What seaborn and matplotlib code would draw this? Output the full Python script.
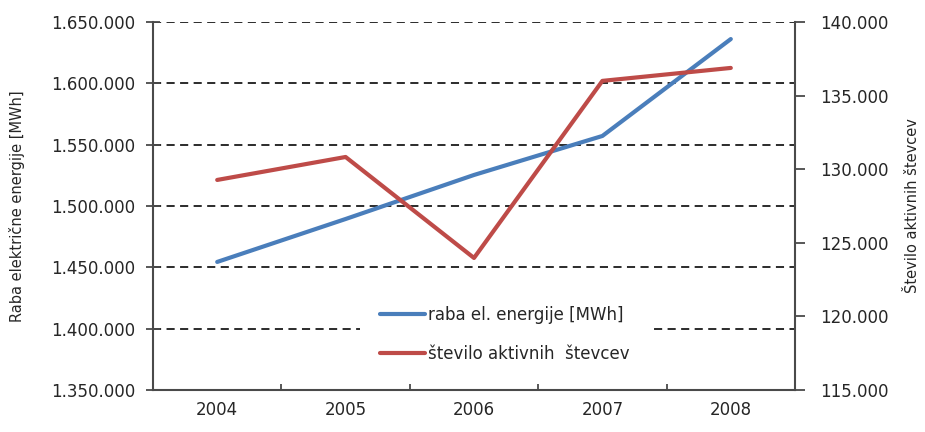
import matplotlib
matplotlib.use("Agg")
import matplotlib.pyplot as plt
from matplotlib.ticker import FuncFormatter, FixedLocator
import seaborn as sns
import pandas as pd

# Yearly data
years = ["2004", "2005", "2006", "2007", "2008"]
energy_mwh = [1454400, 1489400, 1525300, 1557100, 1636100]
active_meters = [129270, 130830, 123970, 136000, 136880]

energy_label = "raba el. energije [MWh]"
meters_label = "število aktivnih  števcev"
left_axis_label = "Raba električne energije [MWh]"
right_axis_label = "Število aktivnih števcev"

left_ticks = [1350000, 1400000, 1450000, 1500000, 1550000, 1600000, 1650000]
right_ticks = [115000, 120000, 125000, 130000, 135000, 140000]

df = pd.DataFrame({"leto": years, "energija": energy_mwh, "stevci": active_meters})

sns.set_theme(style="white")
plt.rcParams["font.family"] = ["DejaVu Sans"]

text_color = "#262626"
spine_color = "#4a4a4a"
blue = "#4a7ebb"
red = "#be4b48"
fs = 12

fig = plt.figure(figsize=(9.25, 4.32), dpi=100)
ax = fig.add_axes([153 / 925, 42 / 432, (795 - 153) / 925, (390 - 22) / 432])
ax2 = ax.twinx()

sns.lineplot(data=df, x="leto", y="energija", ax=ax, color=blue, linewidth=3.0,
             label=energy_label, legend=False)
sns.lineplot(data=df, x="leto", y="stevci", ax=ax2, color=red, linewidth=3.0,
             label=meters_label, legend=False)

ax.set_xlim(-0.5, len(years) - 0.5)
ax.set_ylim(left_ticks[0], left_ticks[-1])
ax2.set_ylim(right_ticks[0], right_ticks[-1])

fmt = FuncFormatter(lambda v, p: f"{v:,.0f}".replace(",", "."))
ax.yaxis.set_major_locator(FixedLocator(left_ticks))
ax.yaxis.set_major_formatter(fmt)
ax2.yaxis.set_major_locator(FixedLocator(right_ticks))
ax2.yaxis.set_major_formatter(fmt)

# dashed horizontal grid on the primary scale
for v in left_ticks[1:]:
    ax.axhline(v, color="#1a1a1a", linewidth=1.3, linestyle=(0, (4.5, 3)), zorder=0.5)

# year labels centred, ticks between categories
ax.set_xticks(range(len(years)))
ax.set_xticklabels(years)
ax.set_xticks([i + 0.5 for i in range(len(years) - 1)], minor=True)
ax.tick_params(axis="x", which="major", length=0, pad=8, labelsize=fs, labelcolor=text_color)
ax.tick_params(axis="x", which="minor", direction="in", length=4, width=1.3, color=spine_color, bottom=True)
ax.tick_params(axis="y", direction="inout", length=10, width=1.3, color=spine_color,
               pad=8, labelsize=fs, labelcolor=text_color, left=True)
ax2.tick_params(axis="y", direction="out", length=7, width=1.3, color=spine_color,
                pad=11, labelsize=fs, labelcolor=text_color, right=True)

ax.set_xlabel("")
ax.set_ylabel(left_axis_label, fontsize=10.5, color=text_color)
ax2.set_ylabel(right_axis_label, fontsize=10.5, color=text_color, rotation=90)
ax.yaxis.set_label_coords(-128 / 642, 0.5)
ax2.yaxis.set_label_coords(1 + 110 / 642, 0.5)

for a in (ax, ax2):
    a.spines["top"].set_visible(False)
    for s in ("left", "right", "bottom"):
        a.spines[s].set_color(spine_color)
        a.spines[s].set_linewidth(1.5)
ax2.spines["left"].set_visible(False)
ax2.spines["bottom"].set_visible(False)
ax.spines["right"].set_visible(False)

h1, l1 = ax.get_legend_handles_labels()
h2, l2 = ax2.get_legend_handles_labels()
leg = ax2.legend(h1 + h2, l1 + l2, loc="upper left",
                 bbox_to_anchor=(360 / 925, 1 - 286 / 432), bbox_transform=fig.transFigure,
                 frameon=True, facecolor="white", edgecolor="white", framealpha=1,
                 fontsize=fs, handlelength=2.7, handletextpad=0.15, labelspacing=1.25,
                 borderpad=1.2, borderaxespad=0)
for t in leg.get_texts():
    t.set_color(text_color)
leg.get_frame().set_linewidth(0)

fig.savefig("out.png", dpi=100)
